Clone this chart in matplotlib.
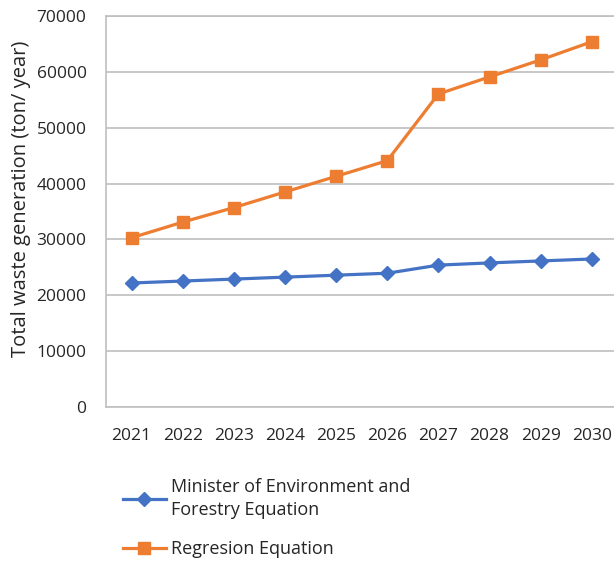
import matplotlib.pyplot as plt
from matplotlib.lines import Line2D

years = ["2021", "2022", "2023", "2024", "2025", "2026", "2027", "2028", "2029", "2030"]
minister = [22200, 22550, 22900, 23250, 23600, 23950, 25400, 25800, 26150, 26500]
regression = [30300, 33100, 35700, 38500, 41300, 44100, 56050, 59100, 62150, 65400]
y_ticks = [0, 10000, 20000, 30000, 40000, 50000, 60000, 70000]

BLUE = "#4472C4"
ORANGE = "#ED7D31"
GRID = "#BFBFBF"
TEXT = "#262626"

plt.rcParams["font.family"] = ["Open Sans", "DejaVu Sans"]

fig = plt.figure(figsize=(6.14, 5.62), dpi=100)
ax = fig.add_axes([0.1726, 0.2758, 0.833, 0.6957])

x = list(range(len(years)))
ax.plot(x, minister, color=BLUE, lw=2.3, marker="D", ms=7, zorder=3)
ax.plot(x, regression, color=ORANGE, lw=2.3, marker="s", ms=9, zorder=3)

ax.set_xlim(-0.5, len(years) - 0.5)
ax.set_ylim(0, 70000)
ax.set_yticks(y_ticks)
ax.set_yticklabels([str(v) for v in y_ticks])
ax.set_xticks(x)
ax.set_xticklabels(years)
ax.yaxis.grid(True, color=GRID, lw=1.2)
ax.set_axisbelow(True)
ax.tick_params(length=0, labelsize=12.5, colors=TEXT)
ax.tick_params(axis="y", pad=14)
ax.tick_params(axis="x", pad=15)
for s in ax.spines.values():
    s.set_color(GRID)
    s.set_linewidth(1.2)

ax.set_ylabel("Total waste generation (ton/ year)", fontsize=14.5, color=TEXT)
ax.yaxis.set_label_coords(-0.147, 0.532)

handles = [
    Line2D([], [], color=BLUE, lw=2.3, marker="D", ms=7),
    Line2D([], [], color=ORANGE, lw=2.3, marker="s", ms=9),
]
labels = ["Minister of Environment and\nForestry Equation", "Regresion Equation"]
leg = fig.legend(handles, labels, loc="upper left", bbox_to_anchor=(0.189, 0.162),
                 frameon=False, fontsize=13, handlelength=2.35, handletextpad=0.3,
                 labelspacing=1.15, borderaxespad=0, labelcolor=TEXT)
for t in leg.get_texts():
    t.set_linespacing(1.35)

fig.savefig("out.png", dpi=100)
